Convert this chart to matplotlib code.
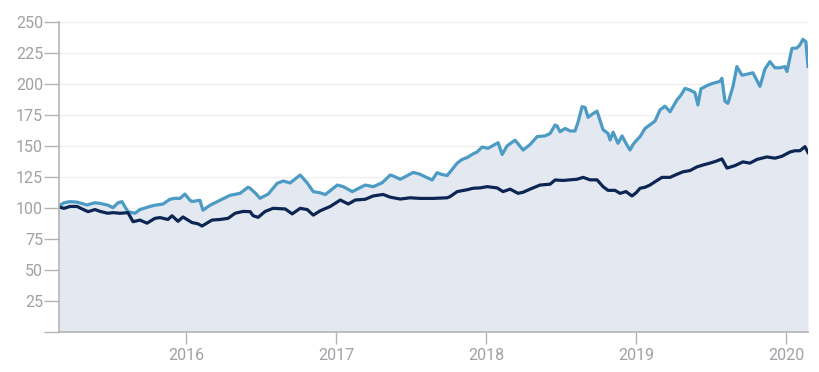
import numpy as np
import matplotlib
matplotlib.use("Agg")
import matplotlib.pyplot as plt
import matplotlib.dates as mdates
from datetime import datetime, timedelta

# ---- data (time as decimal years, values as index level) ----
light_t = [2015.153, 2015.187, 2015.227, 2015.273, 2015.340, 2015.393, 2015.427, 2015.480, 2015.513,
           2015.547, 2015.573, 2015.613, 2015.660, 2015.693, 2015.760, 2015.793, 2015.847, 2015.893,
           2015.927, 2015.960, 2015.993, 2016.027, 2016.040, 2016.093, 2016.113, 2016.160, 2016.227,
           2016.293, 2016.360, 2016.413, 2016.427, 2016.460, 2016.493, 2016.547, 2016.607, 2016.647,
           2016.693, 2016.760, 2016.807, 2016.847, 2016.893, 2016.927, 2017.007, 2017.047, 2017.107,
           2017.140, 2017.193, 2017.247, 2017.307, 2017.360, 2017.380, 2017.427, 2017.460, 2017.513,
           2017.560, 2017.593, 2017.640, 2017.673, 2017.700, 2017.740, 2017.807, 2017.840, 2017.873,
           2017.913, 2017.940, 2017.973, 2018.013, 2018.080, 2018.107, 2018.140, 2018.193, 2018.247,
           2018.293, 2018.340, 2018.393, 2018.427, 2018.460, 2018.473, 2018.493, 2018.527, 2018.560,
           2018.593, 2018.613, 2018.640, 2018.660, 2018.680, 2018.713, 2018.740, 2018.780, 2018.813,
           2018.827, 2018.847, 2018.880, 2018.907, 2018.933, 2018.960, 2018.980, 2019.000, 2019.027,
           2019.060, 2019.093, 2019.127, 2019.160, 2019.193, 2019.227, 2019.273, 2019.300, 2019.327,
           2019.360, 2019.393, 2019.413, 2019.433, 2019.480, 2019.513, 2019.560, 2019.573, 2019.593,
           2019.613, 2019.647, 2019.673, 2019.707, 2019.747, 2019.780, 2019.827, 2019.860, 2019.893,
           2019.927, 2019.960, 2019.993, 2020.007, 2020.040, 2020.073, 2020.093, 2020.113, 2020.133,
           2020.147]
light_v = [101.5, 104, 104.9, 104.5, 102.2, 104, 103.5, 102, 100,
           104, 104.9, 96.8, 95.5, 98.5, 101, 102, 103, 106.8,
           107.6, 107.5, 111, 106, 105, 106, 98, 102, 106,
           110, 111.6, 116.5, 115.7, 112, 107.6, 111, 119.7, 121.6,
           120, 126.4, 120, 113, 112, 110.6, 118.3, 117, 113,
           115, 118.3, 117, 120.2, 126.4, 125.6, 123, 125, 128.5,
           127, 125, 122.4, 128.3, 127, 126, 136, 139, 140.5,
           143.5, 145, 149, 148, 152.5, 143, 150, 154.5, 146.6,
           151, 157.4, 158, 160, 166.8, 166, 161.4, 164, 162,
           162, 169, 181.6, 181, 173, 176, 178, 163, 160,
           154.7, 161, 152, 158, 152, 146.6, 151, 154, 157.4,
           164, 167, 170, 179, 182, 177.5, 187, 191, 196.4,
           195, 193, 183, 196, 199, 200.5, 202, 204.6, 186,
           184.3, 198, 214, 207, 208, 209, 198, 212, 218,
           213, 213, 214, 210, 228.7, 229, 231.4, 236, 234,
           214]

dark_t = [2015.153, 2015.187, 2015.227, 2015.273, 2015.307, 2015.347, 2015.393, 2015.427, 2015.480,
          2015.513, 2015.560, 2015.613, 2015.647, 2015.693, 2015.740, 2015.793, 2015.827, 2015.880,
          2015.907, 2015.947, 2015.980, 2016.040, 2016.080, 2016.107, 2016.173, 2016.227, 2016.280,
          2016.327, 2016.380, 2016.427, 2016.447, 2016.480, 2016.527, 2016.580, 2016.660, 2016.707,
          2016.760, 2016.807, 2016.847, 2016.893, 2016.960, 2017.027, 2017.080, 2017.127, 2017.193,
          2017.247, 2017.313, 2017.360, 2017.427, 2017.493, 2017.560, 2017.647, 2017.740, 2017.760,
          2017.807, 2017.873, 2017.913, 2017.960, 2018.007, 2018.073, 2018.113, 2018.160, 2018.213,
          2018.247, 2018.293, 2018.360, 2018.427, 2018.460, 2018.513, 2018.560, 2018.607, 2018.647,
          2018.693, 2018.740, 2018.780, 2018.813, 2018.860, 2018.893, 2018.933, 2018.973, 2019.000,
          2019.027, 2019.060, 2019.093, 2019.127, 2019.173, 2019.227, 2019.273, 2019.313, 2019.360,
          2019.407, 2019.447, 2019.493, 2019.533, 2019.573, 2019.607, 2019.660, 2019.713, 2019.760,
          2019.807, 2019.873, 2019.927, 2019.973, 2020.027, 2020.060, 2020.093, 2020.127, 2020.147]
dark_v = [100.5, 99.5, 101, 101, 99, 96.8, 98.5, 97, 95.5,
          96, 95.5, 96, 88.7, 90, 87.5, 91.4, 92, 90.5,
          93.5, 89, 92.5, 88, 87, 85.2, 90, 90.5, 91.4,
          95.5, 97, 96.8, 93.5, 92.2, 97, 99.5, 99, 95,
          99.5, 98.5, 94, 97.5, 101, 106.2, 103, 106.2, 106.8,
          109.5, 110.7, 108.5, 107, 108, 107.5, 107.5, 108, 109,
          113, 114.5, 115.7, 116, 117, 116, 113, 115, 111.6,
          112.5, 115, 118.3, 119, 122.4, 122, 122.5, 123, 124.5,
          122.5, 122.5, 117, 114, 114, 111.6, 113, 109.5, 112,
          115.7, 116.5, 118.3, 121, 124.5, 124.5, 127, 129, 130,
          133, 134.5, 136, 137.5, 139.4, 132, 134, 137, 136,
          139, 141, 140, 141.5, 145, 146, 146, 149.3, 144.6]

y_ticks = [0, 25, 50, 75, 100, 125, 150, 175, 200, 225, 250]
y_labels = ["", "25", "50", "75", "100", "125", "150", "175", "200", "225", "250"]
x_tick_years = [2016, 2017, 2018, 2019, 2020]


def to_dt(y):
    yr = int(np.floor(y))
    start = datetime(yr, 1, 1)
    ndays = (datetime(yr + 1, 1, 1) - start).days
    return start + timedelta(days=(y - yr) * ndays)


lx = [to_dt(t) for t in light_t]
dx = [to_dt(t) for t in dark_t]

plt.rcParams['font.family'] = ['Roboto', 'DejaVu Sans']

fig = plt.figure(figsize=(8.19, 3.72), dpi=100)
ax = fig.add_axes([59 / 819, (372 - 331.5) / 372, (808 - 59) / 819, (331.5 - 22) / 372])

LIGHT = "#4b9bc5"
DARK = "#0c2654"
FILL = "#e4e9f1"
AXC = "#b4b4b4"
TXT = "#a0a0a6"

ax.fill_between(lx, 0, light_v, color=FILL, lw=0, zorder=1)
ax.plot(lx, light_v, color=LIGHT, lw=2.3, zorder=3, solid_joinstyle="round")
ax.plot(dx, dark_v, color=DARK, lw=2.3, zorder=4, solid_joinstyle="round")

ax.set_ylim(0, 250)
ax.set_xlim(to_dt(light_t[0]), to_dt(light_t[-1]))
ax.set_yticks(y_ticks)
ax.set_yticklabels(y_labels)
ax.set_xticks([datetime(y, 1, 1) for y in x_tick_years])
ax.set_xticklabels([str(y) for y in x_tick_years])

for v in y_ticks[1:]:
    ax.axhline(v, color="#efefef", lw=1.0, zorder=0)

for s in ["top", "right"]:
    ax.spines[s].set_visible(False)
for s in ["left", "bottom"]:
    ax.spines[s].set_color(AXC)
    ax.spines[s].set_linewidth(1.2)
    ax.spines[s].set_zorder(5)

ax.tick_params(axis="y", length=10.5, width=1.0, color=AXC, labelcolor=TXT, labelsize=11.5, pad=1)
ax.tick_params(axis="x", length=8.6, width=1.0, color=AXC, labelcolor=TXT, labelsize=11.5, pad=3.5)
ax.set_facecolor("white")

fig.savefig("out.png", dpi=100)
